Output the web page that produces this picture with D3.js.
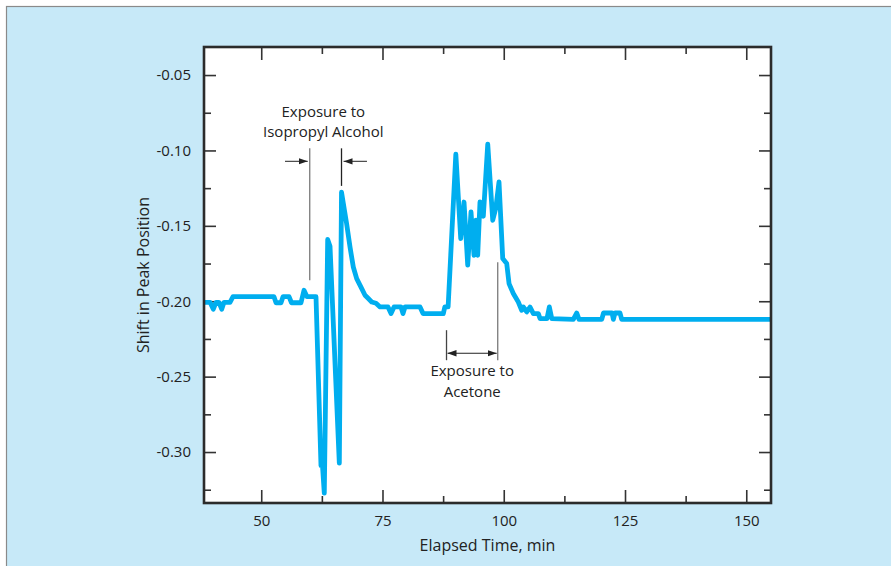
<!DOCTYPE html>
<html>
<head>
<meta charset="utf-8">
<script src="https://cdn.jsdelivr.net/npm/d3@7"></script>
<style>
  html, body { margin: 0; padding: 0; background: #fff; }
  svg { display: block; font-family: "Open Sans", "Noto Sans", sans-serif; }
</style>
</head>
<body>
<div id="chart"></div>
<script>
// elapsed time (min) and shift in peak position
const time = [
    38.2, 39.44, 40.12, 40.67, 41.29, 41.85, 42.32, 43.56, 44.18, 52.63,
    53.05, 54.08, 54.49, 55.73, 56.24, 58.2, 58.82, 59.44, 61.29, 62.32,
    62.63, 63.0, 63.7, 64.18, 66.1, 66.55, 67.58, 68.3, 68.98, 69.68,
    70.72, 71.4, 72.08, 72.78, 73.67, 74.49, 76.14, 76.76, 77.38, 78.82,
    79.23, 79.64, 82.74, 83.36, 87.54, 87.85, 88.53, 90.12, 91.13, 91.81,
    92.57, 93.25, 93.87, 94.28, 94.63, 95.1, 95.79, 96.7, 97.73, 98.35,
    99.02, 99.79, 100.61, 101.09, 101.97, 103.0, 103.7, 104.03, 104.74, 105.42,
    106.1, 107.13, 107.48, 108.92, 109.4, 109.9, 114.35, 115.05, 115.52, 120.2,
    120.57, 122.33, 122.6, 122.94, 123.97, 124.32, 155.1
];
const shift = [
    -0.2007, -0.2007, -0.2053, -0.2007, -0.2007, -0.2053, -0.2007, -0.2007, -0.197, -0.197,
    -0.201, -0.201, -0.197, -0.197, -0.201, -0.201, -0.1927, -0.197, -0.197, -0.309,
    -0.309, -0.3273, -0.159, -0.1635, -0.3074, -0.1277, -0.148, -0.164, -0.1773, -0.185,
    -0.1916, -0.196, -0.1982, -0.2005, -0.2013, -0.2038, -0.2038, -0.2082, -0.2038, -0.2038,
    -0.2082, -0.2038, -0.2038, -0.2082, -0.2082, -0.2038, -0.2038, -0.1025, -0.1584, -0.1342,
    -0.1761, -0.1408, -0.1695, -0.1463, -0.1695, -0.1342, -0.1436, -0.0959, -0.1463, -0.1385,
    -0.1209, -0.1717, -0.175, -0.1883, -0.1949, -0.2005, -0.206, -0.2038, -0.2071, -0.2038,
    -0.2082, -0.2082, -0.2115, -0.2115, -0.2038, -0.2115, -0.212, -0.2078, -0.212, -0.212,
    -0.2078, -0.2078, -0.212, -0.2078, -0.2078, -0.212, -0.212
];

const xMajor = [50, 75, 100, 125, 150];
const xMinor = [62.5, 87.5, 112.5, 137.5];
const yMajor = [-0.05, -0.10, -0.15, -0.20, -0.25, -0.30];
const yMinor = [-0.075, -0.125, -0.175, -0.225, -0.275, -0.325];

// exposure windows (min)
const alcoholWindow = [60.0, 66.55];
const acetoneWindow = [88.2, 98.76];

const W = 891, H = 566;
const plot = { left: 204, right: 771, top: 47, bottom: 503 };

const svg = d3.select("#chart").append("svg")
    .attr("width", W)
    .attr("height", H);

// panel
svg.append("rect")
    .attr("x", 6.5).attr("y", 6.5)
    .attr("width", W + 20).attr("height", H + 20)
    .attr("fill", "#c7e9f8")
    .attr("stroke", "#8a8a8a")
    .attr("stroke-width", 1.2);

svg.append("rect")
    .attr("x", plot.left).attr("y", plot.top)
    .attr("width", plot.right - plot.left).attr("height", plot.bottom - plot.top)
    .attr("fill", "#fff");

const x = d3.scaleLinear().domain([38.2, 155.1]).range([plot.left, plot.right]);
const y = d3.scaleLinear().domain([-0.3338, -0.0314]).range([plot.bottom, plot.top]);

const fmt = d => d.toFixed(2);

function styleAxis(g) {
    g.select(".domain").remove();
    g.selectAll(".tick line").attr("stroke", "#333").attr("stroke-width", 1.6);
    g.selectAll(".tick text").attr("fill", "#222").attr("font-size", "15px")
        .attr("font-family", "Open Sans, Noto Sans, sans-serif");
}

// bottom
svg.append("g").attr("transform", `translate(0,${plot.bottom})`)
    .call(d3.axisBottom(x).tickValues(xMajor).tickSize(-13).tickPadding(12).tickFormat(d3.format("d")))
    .call(styleAxis);
svg.append("g").attr("transform", `translate(0,${plot.bottom})`)
    .call(d3.axisBottom(x).tickValues(xMinor).tickSize(-7).tickFormat(""))
    .call(styleAxis);
// top
svg.append("g").attr("transform", `translate(0,${plot.top})`)
    .call(d3.axisTop(x).tickValues(xMajor).tickSize(-13).tickFormat(""))
    .call(styleAxis);
svg.append("g").attr("transform", `translate(0,${plot.top})`)
    .call(d3.axisTop(x).tickValues(xMinor).tickSize(-7).tickFormat(""))
    .call(styleAxis);
// left
svg.append("g").attr("transform", `translate(${plot.left},0)`)
    .call(d3.axisLeft(y).tickValues(yMajor).tickSize(-12).tickPadding(13).tickFormat(fmt))
    .call(styleAxis);
svg.append("g").attr("transform", `translate(${plot.left},0)`)
    .call(d3.axisLeft(y).tickValues(yMinor).tickSize(-7).tickFormat(""))
    .call(styleAxis);
// right
svg.append("g").attr("transform", `translate(${plot.right},0)`)
    .call(d3.axisRight(y).tickValues(yMajor).tickSize(-12).tickFormat(""))
    .call(styleAxis);
svg.append("g").attr("transform", `translate(${plot.right},0)`)
    .call(d3.axisRight(y).tickValues(yMinor).tickSize(-7).tickFormat(""))
    .call(styleAxis);

// annotations
const defs = svg.append("defs");
defs.append("marker")
    .attr("id", "arrow")
    .attr("viewBox", "0 0 10 10")
    .attr("refX", 10).attr("refY", 5)
    .attr("markerWidth", 9).attr("markerHeight", 9)
    .attr("markerUnits", "userSpaceOnUse")
    .attr("orient", "auto-start-reverse")
    .append("path")
    .attr("d", "M0,1.5 L10,5 L0,8.5 Z")
    .attr("fill", "#222");

const ann = svg.append("g");

// isopropyl alcohol
ann.append("line")
    .attr("x1", x(alcoholWindow[0])).attr("x2", x(alcoholWindow[0]))
    .attr("y1", y(-0.0986)).attr("y2", y(-0.186))
    .attr("stroke", "#7a7a7a").attr("stroke-width", 1.3);
ann.append("line")
    .attr("x1", x(alcoholWindow[1])).attr("x2", x(alcoholWindow[1]))
    .attr("y1", y(-0.0986)).attr("y2", y(-0.1235))
    .attr("stroke", "#222").attr("stroke-width", 1.3);
ann.append("line")
    .attr("x1", x(54.9)).attr("x2", x(alcoholWindow[0]) - 2)
    .attr("y1", y(-0.1072)).attr("y2", y(-0.1072))
    .attr("stroke", "#222").attr("stroke-width", 1)
    .attr("marker-end", "url(#arrow)");
ann.append("line")
    .attr("x1", x(71.8)).attr("x2", x(alcoholWindow[1]) + 2)
    .attr("y1", y(-0.1072)).attr("y2", y(-0.1072))
    .attr("stroke", "#222").attr("stroke-width", 1)
    .attr("marker-end", "url(#arrow)");
ann.append("text")
    .attr("x", x(62.8)).attr("y", y(-0.0778))
    .attr("text-anchor", "middle")
    .attr("font-size", "15px").attr("fill", "#222")
    .selectAll("tspan")
    .data(["Exposure to", "Isopropyl Alcohol"])
    .enter().append("tspan")
    .attr("x", x(62.8))
    .attr("dy", (d, i) => i === 0 ? 0 : 20.5)
    .text(d => d);

// acetone
ann.append("line")
    .attr("x1", x(acetoneWindow[0])).attr("x2", x(acetoneWindow[0]))
    .attr("y1", y(-0.2192)).attr("y2", y(-0.2391))
    .attr("stroke", "#444").attr("stroke-width", 1.3);
ann.append("line")
    .attr("x1", x(acetoneWindow[1])).attr("x2", x(acetoneWindow[1]))
    .attr("y1", y(-0.1741)).attr("y2", y(-0.2391))
    .attr("stroke", "#7a7a7a").attr("stroke-width", 1.3);
ann.append("line")
    .attr("x1", x(acetoneWindow[0]) + 1).attr("x2", x(acetoneWindow[1]) - 1)
    .attr("y1", y(-0.2345)).attr("y2", y(-0.2345))
    .attr("stroke", "#222").attr("stroke-width", 1)
    .attr("marker-start", "url(#arrow)")
    .attr("marker-end", "url(#arrow)");
ann.append("text")
    .attr("x", x(93.5)).attr("y", y(-0.2499))
    .attr("text-anchor", "middle")
    .attr("font-size", "15px").attr("fill", "#222")
    .selectAll("tspan")
    .data(["Exposure to", "Acetone"])
    .enter().append("tspan")
    .attr("x", x(93.5))
    .attr("dy", (d, i) => i === 0 ? 0 : 20.5)
    .text(d => d);

// data line
defs.append("clipPath").attr("id", "clip")
    .append("rect")
    .attr("x", plot.left).attr("y", plot.top - 5)
    .attr("width", plot.right - plot.left).attr("height", plot.bottom - plot.top + 10);

const line = d3.line()
    .x((d, i) => x(time[i]))
    .y(d => y(d));

svg.append("path")
    .datum(shift)
    .attr("clip-path", "url(#clip)")
    .attr("d", line)
    .attr("fill", "none")
    .attr("stroke", "#00aeef")
    .attr("stroke-width", 4.8)
    .attr("stroke-linejoin", "round")
    .attr("stroke-linecap", "round");

// frame
svg.append("rect")
    .attr("x", plot.left).attr("y", plot.top)
    .attr("width", plot.right - plot.left).attr("height", plot.bottom - plot.top)
    .attr("fill", "none")
    .attr("stroke", "#2b2b2b")
    .attr("stroke-width", 2.6);

// axis titles
svg.append("text")
    .attr("x", (plot.left + plot.right) / 2).attr("y", 551)
    .attr("text-anchor", "middle")
    .attr("font-size", "16px").attr("fill", "#222")
    .text("Elapsed Time, min");

svg.append("text")
    .attr("transform", `translate(149,${(plot.top + plot.bottom) / 2}) rotate(-90)`)
    .attr("text-anchor", "middle")
    .attr("font-size", "16px").attr("fill", "#222")
    .text("Shift in Peak Position");
</script>
</body>
</html>
